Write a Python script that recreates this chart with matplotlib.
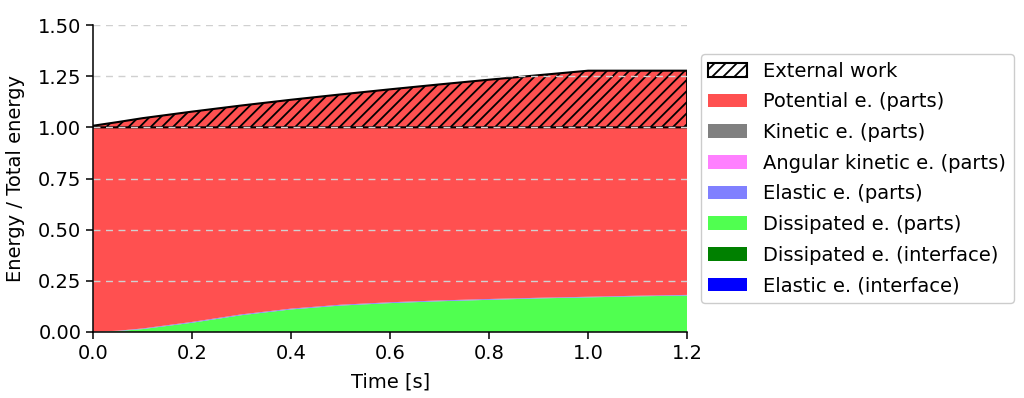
import matplotlib
matplotlib.use("Agg")
import matplotlib.pyplot as plt
import numpy as np

# time axis [s]
time = [0.0, 0.05, 0.1, 0.2, 0.3, 0.4, 0.5, 0.6, 0.7, 0.8, 0.9, 1.0, 1.1, 1.2]

# energies normalised by total energy
elastic_interface = [0.0] * 14
dissipated_interface = [0.0] * 14
dissipated_parts = [0.0, 0.004, 0.014, 0.045, 0.082, 0.110, 0.129, 0.141, 0.150,
                    0.157, 0.164, 0.169, 0.174, 0.178]
elastic_parts = [0.0, 0.002, 0.003, 0.004, 0.004, 0.004, 0.004, 0.004, 0.004,
                 0.004, 0.003, 0.003, 0.003, 0.003]
angular_kinetic = [0.0] * 14
kinetic = [0.0] * 14
potential = [1.008, 1.020, 1.028, 1.028, 1.021, 1.021, 1.028, 1.041, 1.056,
             1.072, 1.088, 1.105, 1.100, 1.096]
external_work = [0.008, 0.026, 0.045, 0.077, 0.107, 0.135, 0.161, 0.186, 0.210,
                 0.233, 0.255, 0.277, 0.277, 0.277]

labels = [
    "Elastic e. (interface)",
    "Dissipated e. (interface)",
    "Dissipated e. (parts)",
    "Elastic e. (parts)",
    "Angular kinetic e. (parts)",
    "Kinetic e. (parts)",
    "Potential e. (parts)",
]
colors = ["#0000ff", "#008000", "#50ff50", "#8080ff", "#ff80ff", "#808080", "#ff5050"]

plt.rcParams["hatch.linewidth"] = 1.3
plt.rcParams["axes.linewidth"] = 1.1
plt.rcParams["xtick.major.width"] = 1.1
plt.rcParams["ytick.major.width"] = 1.1

fig = plt.figure(figsize=(10.24, 3.98), dpi=100)
ax = fig.add_axes([0.091, 0.166, 0.58, 0.771])

ax.stackplot(time, elastic_interface, dissipated_interface, dissipated_parts,
             elastic_parts, angular_kinetic, kinetic, potential,
             labels=labels, colors=colors)

t = np.array(time)
ew = np.array(external_work)
ax.fill_between(t, 1.0, 1.0 + ew, facecolor="none", edgecolor="black",
                hatch="///", linewidth=1.5, label="External work")

ax.set_xlim(0, 1.2)
ax.set_ylim(0, 1.5)
ax.set_xticks(np.arange(0, 1.21, 0.2))
ax.set_yticks(np.arange(0, 1.51, 0.25))
ax.xaxis.set_major_formatter(matplotlib.ticker.FormatStrFormatter("%.1f"))
ax.yaxis.set_major_formatter(matplotlib.ticker.FormatStrFormatter("%.2f"))
ax.tick_params(labelsize=14, length=5)
ax.grid(axis="y", linestyle=(0, (5, 4)), color="#d0d0d0", linewidth=1.0)
ax.spines["top"].set_visible(False)
ax.spines["right"].set_visible(False)
ax.set_xlabel("Time [s]", fontsize=14, labelpad=7)
ax.set_ylabel("Energy / Total energy", fontsize=14, labelpad=9)

handles, labs = ax.get_legend_handles_labels()
handles = handles[::-1]
labs = labs[::-1]
ax.legend(handles, labs, loc="center left", bbox_to_anchor=(1.0, 0.5),
          fontsize=14, framealpha=1.0, borderaxespad=0.7, labelspacing=0.6)

fig.savefig("out.png", dpi=100)
